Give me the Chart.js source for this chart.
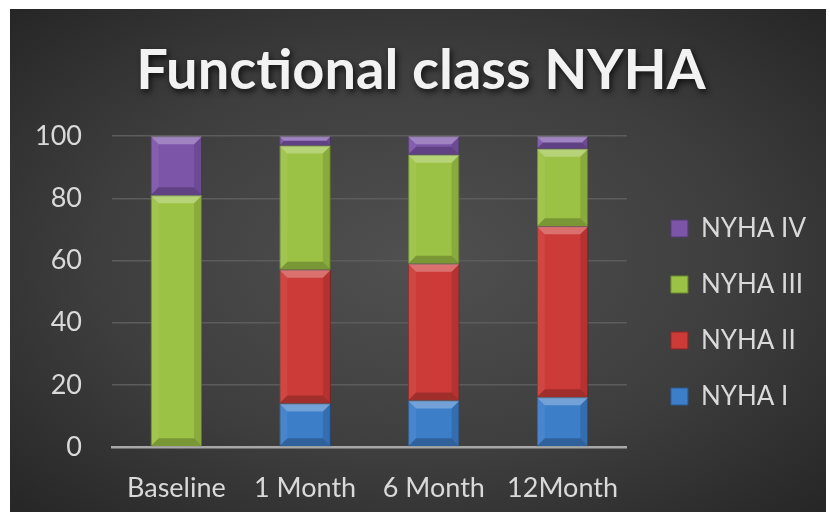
<!DOCTYPE html>
<html>
<head>
<meta charset="utf-8">
<script src="https://cdn.jsdelivr.net/npm/chart.js@4.4.1/dist/chart.umd.min.js"></script>
<style>
  body { margin: 0; background: #ffffff; }
  #box {
    position: absolute; left: 10px; top: 9px; width: 816px; height: 503px;
    background: radial-gradient(ellipse at 50% 50%, #505050 0%, #3e3e3e 55%, #262626 100%);
  }
</style>
</head>
<body>
<div id="box"><canvas id="myChart1" width="816" height="503"></canvas></div>
<script>
const labels = ['Baseline', '1 Month', '6 Month', '12Month']
const nyha1 = [0, 14, 15, 16]
const nyha2 = [0, 43, 44, 55]
const nyha3 = [81, 40, 35, 25]
const nyha4 = [19, 3, 6, 4]
const yTicks = [0, 20, 40, 60, 80, 100]

// bevel look like the office chart
const bevel = {
  id: 'bevel',
  afterDatasetsDraw(chart) {
    const ctx = chart.ctx
    chart.data.datasets.forEach((ds, i) => {
      chart.getDatasetMeta(i).data.forEach((bar) => {
        const h = Math.abs(bar.base - bar.y)
        if (h < 1) return
        const l = bar.x - bar.width / 2, r = bar.x + bar.width / 2
        const t = Math.min(bar.y, bar.base), b = Math.max(bar.y, bar.base)
        const s = Math.min(8, h / 2)
        ctx.save()
        ctx.fillStyle = 'rgba(255,255,255,0.28)'
        ctx.beginPath()
        ctx.moveTo(l, t); ctx.lineTo(r, t); ctx.lineTo(r - s, t + s); ctx.lineTo(l + s, t + s); ctx.closePath()
        ctx.fill()
        ctx.fillStyle = 'rgba(0,0,0,0.22)'
        ctx.beginPath()
        ctx.moveTo(l, b); ctx.lineTo(r, b); ctx.lineTo(r - s, b - s); ctx.lineTo(l + s, b - s); ctx.closePath()
        ctx.fill()
        ctx.fillStyle = 'rgba(0,0,0,0.12)'
        ctx.beginPath()
        ctx.moveTo(r, t); ctx.lineTo(r, b); ctx.lineTo(r - s, b - s); ctx.lineTo(r - s, t + s); ctx.closePath()
        ctx.fill()
        ctx.fillStyle = 'rgba(255,255,255,0.06)'
        ctx.beginPath()
        ctx.moveTo(l, t); ctx.lineTo(l, b); ctx.lineTo(l + s, b - s); ctx.lineTo(l + s, t + s); ctx.closePath()
        ctx.fill()
        ctx.restore()
      })
    })
  }
}

// move legend + title a bit (office puts them off center), shadow on title
const tweak = {
  id: 'tweak',
  afterLayout(chart) {
    const lg = chart.legend
    lg.left += 14; lg.right += 14
    lg.top += 52; lg.bottom += 52
    const tb = chart.titleBlock
    tb.left += 15; tb.right += 15
  },
  beforeDraw(chart) {
    const tb = chart.titleBlock
    if (tb && !tb._shadow) {
      const orig = tb.draw.bind(tb)
      tb.draw = function () {
        const c = chart.ctx
        c.save()
        c.shadowColor = 'rgba(0,0,0,0.75)'
        c.shadowBlur = 6
        c.shadowOffsetX = 2
        c.shadowOffsetY = 3
        orig()
        c.restore()
      }
      tb._shadow = true
    }
  }
}

const data = {
  labels: labels,
  datasets: [
    { label: 'NYHA I', data: nyha1, backgroundColor: '#3d7ec9', borderColor: '#2a5a94', borderWidth: 1 },
    { label: 'NYHA II', data: nyha2, backgroundColor: '#cd3b38', borderColor: '#8e2624', borderWidth: 1 },
    { label: 'NYHA III', data: nyha3, backgroundColor: '#9cc245', borderColor: '#6b8a2c', borderWidth: 1 },
    { label: 'NYHA IV', data: nyha4, backgroundColor: '#7c55a9', borderColor: '#553a78', borderWidth: 1 }
  ]
}

const config = {
  type: 'bar',
  data: data,
  options: {
    responsive: false,
    animation: false,
    categoryPercentage: 0.8,
    barPercentage: 0.5,
    layout: { padding: { left: 0, right: 24, top: 0, bottom: 0 } },
    scales: {
      x: {
        stacked: true,
        grid: { display: false, drawTicks: false },
        border: { color: '#a8a8a8', width: 2.5 },
        ticks: { color: '#d9d9d9', font: { family: 'Lato', size: 27 }, padding: 25 },
        afterFit(axis) { axis.height = 65 }
      },
      y: {
        stacked: true,
        min: 0, max: 100,
        afterBuildTicks(axis) { axis.ticks = yTicks.map(v => ({ value: v })) },
        grid: { color: '#5c5c5c', lineWidth: 1.5, drawTicks: false },
        border: { display: false },
        ticks: { color: '#d9d9d9', font: { family: 'Lato', size: 27 }, padding: 30 },
        afterFit(axis) { axis.width = 102 }
      }
    },
    plugins: {
      title: {
        display: true,
        text: 'Functional class NYHA',
        color: '#f2f2f2',
        font: { family: 'Lato', size: 56, weight: 'bold' },
        padding: { top: 28, bottom: 32 }
      },
      legend: {
        position: 'right',
        reverse: true,
        labels: {
          color: '#d9d9d9',
          font: { family: 'Lato', size: 26 },
          boxWidth: 17, boxHeight: 17,
          padding: 30
        }
      },
      tooltip: { enabled: false }
    }
  },
  plugins: [bevel, tweak]
}

const ctx1 = document.getElementById('myChart1')
new Chart(ctx1, config)
</script>
</body>
</html>
